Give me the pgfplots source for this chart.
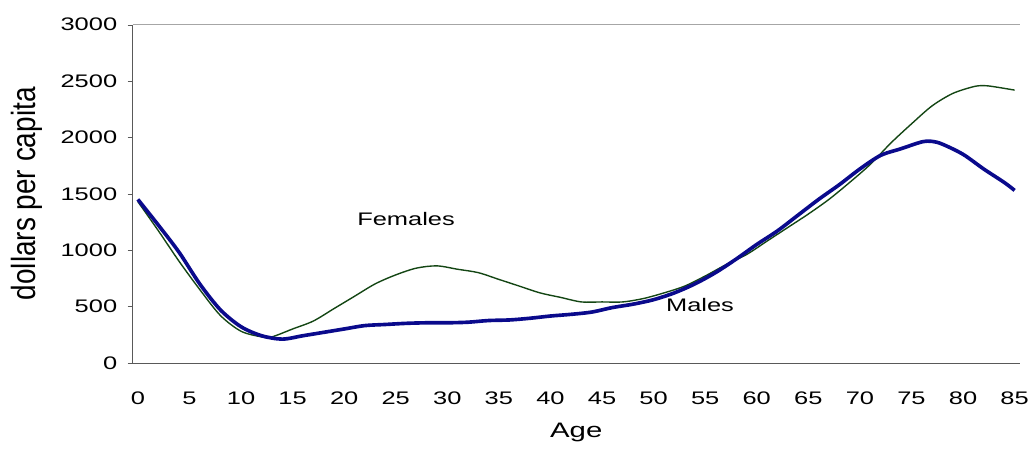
\documentclass[border=0pt]{standalone}
\usepackage{pgfplots}
\pgfplotsset{compat=1.18}
\usepackage{fontspec}
\setmainfont{Liberation Sans}
\definecolor{fem}{RGB}{20,70,20}
\definecolor{mal}{RGB}{10,10,140}
\newcommand{\sx}[1]{\scalebox{1.4}[1]{#1}}
\begin{document}
\fontsize{13}{15}\selectfont
\begin{tikzpicture}
\path[use as bounding box] (-95pt,-61pt) rectangle (641.6pt,259.7pt);
\begin{axis}[
 at={(0,0)}, anchor=south west,
 scale only axis, width=635pt, height=242pt,
 xmin=-0.5, xmax=85.5, ymin=0, ymax=3000,
 axis x line*=bottom, axis y line*=left,
 axis line style={gray!70!black, -},
 xtick={0,5,...,85}, major x tick style={draw=none},
 extra x ticks={-0.5,4.5,...,85.5}, extra x tick labels={},
 extra x tick style={major tick length=4.5pt, tick style={gray!70!black}, tick align=outside},
 xticklabel={\sx{\pgfmathprintnumber{\tick}}},
 yticklabel={\sx{\pgfmathprintnumber{\tick}}},
 x tick label style={yshift=-13pt},
 y tick label style={xshift=-3pt},
 ytick={0,500,...,3000}, tick align=outside, major tick length=3.6pt,
 y tick style={gray!70!black},
 /pgf/number format/assume math mode=true,
 /pgf/number format/1000 sep={},
 clip=false,
]
\draw[gray!70] (axis cs:-0.5,3000) -- (axis cs:85.5,3000);
\addplot[fem, line width=1pt, smooth] coordinates {
(0,1430)(2,1170)(4,900)(6,650)(8,420)(10,280)(12,230)(13,230)(15,300)(17,370)(19,480)(21,590)(23,700)(25,780)(27,840)(29,860)(31,830)(33,800)(35,740)(37,680)(39,620)(41,580)(43,540)(45,540)(47,540)(49,570)(51,620)(53,680)(55,770)(57,870)(59,960)(61,1080)(63,1200)(65,1320)(67,1450)(69,1600)(71,1760)(73,1950)(75,2120)(77,2280)(79,2390)(81,2450)(82,2460)(83,2450)(85,2420)};
\addplot[mal, line width=2.6pt, smooth] coordinates {
(0,1450)(2,1220)(4,980)(6,700)(8,470)(10,320)(12,240)(14,210)(16,240)(18,270)(20,300)(22,330)(24,340)(26,350)(28,355)(30,355)(32,360)(34,375)(36,380)(38,395)(40,415)(42,430)(44,450)(46,490)(48,520)(50,560)(52,620)(54,700)(56,800)(58,920)(60,1050)(62,1170)(64,1310)(66,1450)(68,1580)(70,1720)(72,1840)(74,1900)(76,1960)(77,1965)(78,1940)(80,1850)(82,1720)(84,1600)(85,1530)};
\node at (axis cs:26,1280) {\sx{Females}};
\node at (axis cs:54.5,515) {\sx{Males}};
\node at (axis description cs:0.5,0) [yshift=-50pt] {\fontsize{15}{17}\selectfont\sx{Age}};
\node at (axis description cs:0,0.5) [xshift=-76pt, rotate=90] {\fontsize{20}{22}\selectfont\scalebox{1}[1.2]{dollars per capita}};
\end{axis}
\end{tikzpicture}
\end{document}
